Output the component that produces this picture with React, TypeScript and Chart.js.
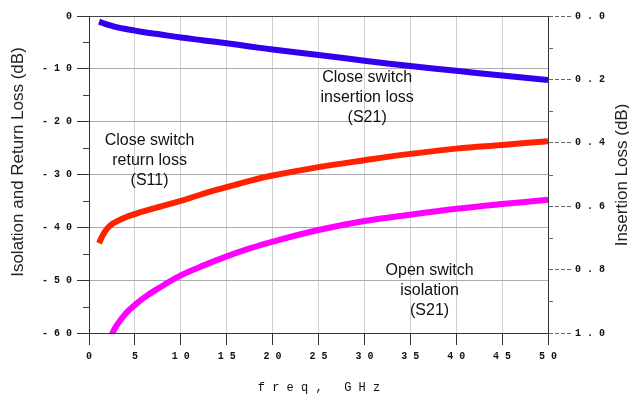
import React, { useEffect, useRef } from "react";
import { Chart, registerables } from "chart.js";

Chart.register(...registerables);

// ---- data ----
const freqGHz = [1.1, 1.5, 2, 2.5, 3, 4, 5, 6, 7.5, 10, 12.5, 15, 17.5, 20, 25, 30, 35, 40, 45, 50];
const closeInsertionLossS21 = [0.018, 0.022, 0.027, 0.031, 0.035, 0.041, 0.046, 0.051, 0.057, 0.068, 0.077, 0.086, 0.096, 0.106, 0.123, 0.141, 0.158, 0.173, 0.188, 0.202];
const closeReturnLossS11 = [-43.0, -41.5, -40.2, -39.4, -38.9, -38.1, -37.5, -36.95, -36.2, -35.0, -33.6, -32.4, -31.2, -30.2, -28.6, -27.3, -26.1, -25.1, -24.4, -23.7];
const openIsolationS21: (number | null)[] = [null, null, null, -60.2, -58.6, -56.3, -54.7, -53.3, -51.6, -49.1, -47.2, -45.5, -44.0, -42.7, -40.5, -38.8, -37.6, -36.5, -35.6, -34.8];

const xTickValues = [0, 5, 10, 15, 20, 25, 30, 35, 40, 45, 50];
const xTickLabels = ["0", "5", "1 0", "1 5", "2 0", "2 5", "3 0", "3 5", "4 0", "4 5", "5 0"];
const leftTickValues = [0, -10, -20, -30, -40, -50, -60];
const leftTickLabels = ["0", "- 1 0", "- 2 0", "- 3 0", "- 4 0", "- 5 0", "- 6 0"];
const rightTickValues = [0, 0.2, 0.4, 0.6, 0.8, 1.0];
const rightTickLabels = ["0 . 0", "0 . 2", "0 . 4", "0 . 6", "0 . 8", "1 . 0"];
const leftMinorTicks = [-5, -15, -25, -35, -45, -55];
const rightMinorTicks = [0.1, 0.3, 0.5, 0.7, 0.9];

const annotations = [
  { x: 30.3, y: -11.6, lines: ["Close switch", "insertion loss", "(S21)"] },
  { x: 6.6, y: -23.6, lines: ["Close switch", "return loss", "(S11)"] },
  { x: 37.1, y: -48.2, lines: ["Open switch", "isolation", "(S21)"] },
];

const leftTitle = "Isolation and Return Loss (dB)";
const rightTitle = "Insertion Loss (dB)";
const xTitle = "f r e q ,   G H z";

const tickFont = { family: "Liberation Mono", size: 10, weight: "bold" as const };

function labelFor(values: number[], labels: string[], v: number) {
  const i = values.findIndex((t) => Math.abs(t - v) < 1e-6);
  return i >= 0 ? labels[i] : "";
}

const decorPlugin = {
  id: "decor",
  afterDraw(chart: any) {
    const ctx = chart.ctx;
    const x = chart.scales.x;
    const y = chart.scales.y;
    const y2 = chart.scales.y2;
    ctx.save();
    // minor ticks
    ctx.lineWidth = 1;
    ctx.strokeStyle = "#444";
    leftMinorTicks.forEach((v) => {
      const py = Math.round(y.getPixelForValue(v)) + 0.5;
      ctx.beginPath();
      ctx.moveTo(x.left - 6, py);
      ctx.lineTo(x.left, py);
      ctx.stroke();
    });
    ctx.strokeStyle = "#666";
    rightMinorTicks.forEach((v) => {
      const py = Math.round(y2.getPixelForValue(v)) + 0.5;
      ctx.beginPath();
      ctx.moveTo(x.right, py);
      ctx.lineTo(x.right + 5, py);
      ctx.stroke();
    });
    // annotations
    ctx.fillStyle = "#111";
    ctx.font = "16px 'Liberation Sans'";
    ctx.textAlign = "center";
    ctx.textBaseline = "middle";
    annotations.forEach((a) => {
      const px = x.getPixelForValue(a.x);
      const py = y.getPixelForValue(a.y);
      a.lines.forEach((l, i) => ctx.fillText(l, px, py + i * 20));
    });
    // axis titles
    ctx.font = "17px 'Liberation Sans'";
    ctx.fillStyle = "#222";
    ctx.save();
    ctx.translate(18, 162);
    ctx.rotate(-Math.PI / 2);
    ctx.fillText(leftTitle, 0, 0);
    ctx.restore();
    ctx.save();
    ctx.translate(622, 175);
    ctx.rotate(-Math.PI / 2);
    ctx.fillText(rightTitle, 0, 0);
    ctx.restore();
    ctx.font = "12px 'Liberation Mono'";
    ctx.fillStyle = "#111";
    ctx.fillText(xTitle, 319, 388);
    ctx.restore();
  },
};

export default function App() {
  const ref = useRef<HTMLCanvasElement | null>(null);
  useEffect(() => {
    if (!ref.current) return;
    const mk = (vals: (number | null)[]) => freqGHz.map((f, i) => ({ x: f, y: vals[i] }));
    const common = { borderWidth: 6, pointRadius: 0, tension: 0.4 };
    const chart = new Chart(ref.current, {
      type: "line",
      data: {
        datasets: [
          {
            label: "Close switch insertion loss (S21)",
            data: mk(closeInsertionLossS21) as any,
            yAxisID: "y2",
            borderColor: "#3300ee",
            ...common,
          },
          {
            label: "Close switch return loss (S11)",
            data: mk(closeReturnLossS11) as any,
            yAxisID: "y",
            borderColor: "#ff2200",
            ...common,
          },
          {
            label: "Open switch isolation (S21)",
            data: mk(openIsolationS21) as any,
            yAxisID: "y",
            borderColor: "#ff00ff",
            ...common,
          },
        ],
      },
      options: {
        animation: false,
        responsive: false,
        layout: { padding: { top: 16, left: 0, right: 0, bottom: 0 } },
        plugins: { legend: { display: false }, tooltip: { enabled: false } },
        scales: {
          x: {
            type: "linear",
            min: 0,
            max: 50,
            afterBuildTicks: (s: any) => {
              s.ticks = xTickValues.map((v) => ({ value: v }));
            },
            afterFit: (s: any) => {
              s.height = 67;
            },
            ticks: {
              font: tickFont,
              color: "#111",
              padding: 5,
              maxRotation: 0,
              autoSkip: false,
              callback: (v: any) => labelFor(xTickValues, xTickLabels, Number(v)),
            },
            grid: {
              color: (c: any) => (c.tick && (c.tick.value === 0 || c.tick.value === 50) ? "#333" : "#cfcfcf"),
              tickColor: "#333",
              tickLength: 12,
              lineWidth: 1,
            },
            border: { color: "#333", width: 1 },
          },
          y: {
            type: "linear",
            position: "left",
            min: -60,
            max: 0,
            afterBuildTicks: (s: any) => {
              s.ticks = leftTickValues.map((v) => ({ value: v }));
            },
            afterFit: (s: any) => {
              s.width = 89;
            },
            ticks: {
              font: tickFont,
              color: "#111",
              padding: 5,
              autoSkip: false,
              callback: (v: any) => labelFor(leftTickValues, leftTickLabels, Number(v)),
            },
            grid: {
              color: (c: any) => (c.tick && c.tick.value === 0 ? "#444" : c.tick && c.tick.value === -60 ? "#333" : "#ababab"),
              tickColor: "#333",
              tickLength: 12,
              lineWidth: 1,
            },
            border: { color: "#333", width: 1 },
          },
          y2: {
            type: "linear",
            position: "right",
            min: 0,
            max: 1,
            reverse: true,
            afterBuildTicks: (s: any) => {
              s.ticks = rightTickValues.map((v) => ({ value: v }));
            },
            afterFit: (s: any) => {
              s.width = 81;
            },
            ticks: {
              font: tickFont,
              color: "#111",
              padding: 3,
              autoSkip: false,
              callback: (v: any) => labelFor(rightTickValues, rightTickLabels, Number(v)),
            },
            grid: {
              drawOnChartArea: false,
              tickColor: "#666",
              tickLength: 24,
              tickBorderDash: [4, 2],
            },
            border: { color: "#333", width: 1 },
          },
        },
      },
      plugins: [decorPlugin],
    });
    return () => chart.destroy();
  }, []);
  return (
    <div style={{ position: "absolute", left: 0, top: 0, width: 629, height: 400, background: "#fff" }}>
      <canvas ref={ref} width={629} height={400} style={{ width: 629, height: 400, display: "block" }} />
    </div>
  );
}
